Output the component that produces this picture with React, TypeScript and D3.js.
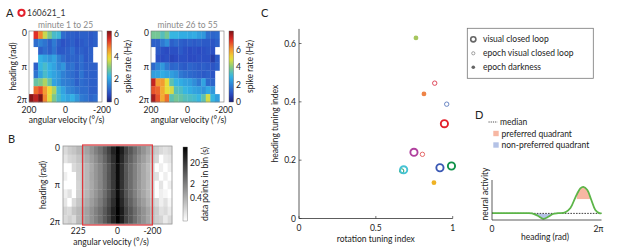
import React from 'react';
import * as d3 from 'd3';

const FONT = 'Lato, "Open Sans", sans-serif';
const TWO_PI = 2 * Math.PI;

// ---------- Panel A data ----------
const avBinsA = [187.5, 162.5, 137.5, 112.5, 87.5, 62.5, 37.5, 12.5, -12.5, -37.5, -62.5, -87.5, -112.5, -137.5, -162.5, -187.5];
const avTicksA = [200, 0, -200];
const headingTickValues = [0, Math.PI, TWO_PI];
const headingTickLabels = ['0', 'π', '2π'];
const N = null;
const spikeEarly: (number | null)[][] = [
  [N, 5.5, 4.8, 3.6, 3.0, 2.5, 2.4, 1.2, 1.0, 1.0, 0.9, 1.0, 1.0, 0.9, 1.0, N],
  [N, 1.2, 1.5, 1.3, 1.0, 1.4, 1.0, 0.8, 0.9, 1.0, 0.8, 0.9, 1.0, 0.9, 1.0, N],
  [N, N, 1.0, 1.2, 1.0, 1.3, 0.9, 0.9, 1.0, 1.2, 0.9, 1.0, 0.9, 1.0, N, N],
  [N, N, 2.2, 2.0, 1.8, 2.0, 1.5, 1.2, 1.0, 1.1, 1.0, 1.2, 0.9, 1.0, N, N],
  [N, 1.0, 2.3, 2.5, 2.2, 2.0, 1.6, 1.8, 1.2, 1.3, 1.0, 1.2, 1.0, 1.0, 1.0, N],
  [N, 1.3, 2.0, 2.5, 2.2, 2.0, 1.8, 1.5, 1.3, 1.2, 1.0, 1.3, 1.0, 1.0, 1.0, N],
  [N, 2.8, 3.0, 3.4, 2.8, 2.0, 1.8, 1.5, 1.4, 1.3, 1.0, 1.2, 1.1, 1.0, 1.0, N],
  [N, 5.0, 5.3, 4.6, 4.0, 3.4, 2.4, 2.0, 1.6, 1.5, 1.3, 1.2, 1.2, 1.0, 1.0, N],
  [6.2, 5.8, 6.3, 4.8, 3.8, 3.0, 2.5, 2.2, 2.0, 2.2, 1.8, 1.4, 1.3, 1.1, 1.2, N],
];
const spikeLate: (number | null)[][] = [
  [3.8, 3.8, 3.4, 3.8, 3.0, 3.0, 2.8, 2.8, 2.7, 2.8, 2.5, 2.4, 1.6, 1.4, 1.5, N],
  [1.3, 1.3, 1.8, 2.2, 1.3, 1.5, 1.3, 1.2, 1.3, 1.2, 1.3, 1.2, 1.2, 1.1, 1.3, N],
  [N, 1.2, 1.0, 0.9, 1.0, 1.0, 1.2, 1.0, 0.9, 1.0, 0.9, 1.0, 1.1, 1.0, N, N],
  [N, 1.0, 0.9, 1.0, 0.8, 0.9, 1.0, 1.0, 0.9, 0.9, 1.0, 1.0, 1.0, 0.6, 1.2, N],
  [1.5, 2.0, 2.4, 1.8, 1.4, 1.5, 1.3, 1.2, 1.4, 1.3, 1.2, 1.3, 1.2, 1.1, 1.3, N],
  [2.5, 2.6, 2.8, 2.6, 2.5, 2.3, 1.8, 1.6, 1.5, 1.4, 1.3, 1.2, 1.3, 1.1, N, N],
  [7.5, 6.0, 6.0, 5.0, 3.5, 3.0, 2.8, 2.6, 2.5, 2.2, 1.8, 2.6, 1.5, 1.4, N, N],
  [6.8, 6.6, 5.8, 5.0, 4.8, 3.4, 3.3, 3.0, 2.8, 2.6, 2.5, 2.3, 2.7, 2.4, N, N],
  [7.8, 6.8, 5.8, 6.5, 3.5, 3.8, 3.6, 3.4, 3.3, 3.2, 3.0, 3.5, 4.8, 3.0, 2.5, N],
];
const spikeTicks = [0, 2, 4, 6];
const spikeMaxEarly = 6.3;
const spikeMaxLate = 8.2;

// ---------- Panel B data ----------
const avBinsB = [300, 275, 250, 225, 200, 175, 150, 125, 100, 75, 50, 25, 0, -25, -50, -75, -100, -125, -150, -175, -200, -225, -250, -275, -300];
const avTicksB = [225, 0, -200];
const dwellTicks = [0.4, 2, 20];
const dwell: number[][] = [
  [0.1, 0.16, 0.2, 0.3, 0.4, 0.6, 1.0, 1.8, 3, 6.5, 14, 40, 110, 45, 14, 7, 3.5, 1.8, 1.0, 0.55, 0.3, 0.16, 0.1, 0.08, 0.1],
  [0.07, 0.11, 0.13, 0.2, 0.28, 0.43, 0.7, 1.2, 2.1, 4.4, 10, 27, 100, 33, 10, 5, 2.4, 1.2, 0.7, 0.38, 0.22, 0.11, 0.03, 0.06, 0.07],
  [0.03, 0.03, 0.1, 0.15, 0.2, 0.3, 0.5, 0.9, 1.5, 3.2, 7, 20, 80, 24, 7, 3.6, 1.8, 0.9, 0.5, 0.28, 0.16, 0.03, 0.05, 0.03, 0.05],
  [0.05, 0.03, 0.03, 0.14, 0.2, 0.3, 0.55, 0.9, 1.5, 3.2, 7.5, 20, 80, 24, 7.5, 3.6, 1.8, 0.9, 0.5, 0.3, 0.14, 0.08, 0.03, 0.05, 0.03],
  [0.03, 0.03, 0.03, 0.12, 0.2, 0.3, 0.5, 0.85, 1.5, 3.0, 7, 19, 78, 23, 7, 3.5, 1.7, 0.85, 0.5, 0.28, 0.15, 0.03, 0.07, 0.03, 0.05],
  [0.05, 0.08, 0.03, 0.14, 0.2, 0.32, 0.55, 0.9, 1.6, 3.3, 7.5, 20, 80, 25, 7.5, 3.7, 1.8, 0.9, 0.52, 0.3, 0.16, 0.03, 0.05, 0.04, 0.03],
  [0.07, 0.03, 0.1, 0.2, 0.28, 0.43, 0.72, 1.2, 2.1, 4.4, 10, 27, 100, 33, 10, 5, 2.4, 1.2, 0.72, 0.38, 0.22, 0.1, 0.05, 0.08, 0.04],
  [0.12, 0.1, 0.2, 0.3, 0.42, 0.62, 1.05, 1.8, 3, 6.5, 14, 40, 115, 48, 14, 7.2, 3.5, 1.8, 1.05, 0.56, 0.32, 0.16, 0.08, 0.1, 0.06],
  [0.1, 0.14, 0.1, 0.28, 0.4, 0.6, 1.0, 1.7, 2.9, 6.2, 13, 38, 110, 45, 13, 7, 3.4, 1.7, 1.0, 0.55, 0.3, 0.15, 0.12, 0.06, 0.1],
];

// ---------- Panel C data ----------
const closedLoopX = [0.946, 0.748, 0.681, 0.917, 0.992];
const closedLoopY = [0.325, 0.227, 0.167, 0.174, 0.180];
const closedLoopColor = ['#e3202b', '#b0409e', '#45c3d4', '#3a58b4', '#10924a'];
const epochVisX = [0.883, 0.961, 0.803, 0.668];
const epochVisY = [0.464, 0.392, 0.220, 0.163];
const epochVisColor = ['#e04a5c', '#6a86c4', '#e66a6a', '#1ea06a'];
const epochDarkX = [0.761, 0.813, 0.878];
const epochDarkY = [0.619, 0.427, 0.123];
const epochDarkColor = ['#a6c65e', '#ee8346', '#efb224'];
const cTicksX = [0, 0.5, 1];
const cTicksY = [0, 0.2, 0.4, 0.6];
const legendC = ['visual closed loop', 'epoch visual closed loop', 'epoch darkness'];

// ---------- Panel D data ----------
const headingD = [0, 1.04, 1.9, 2.3, 2.65, 2.94, 3.23, 3.5, 3.8, 4.2, 4.5, 4.78, 5.07, 5.24, 5.47, 5.7, 5.93, 6.16, 6.283];
const activityD = [0.17, 0.17, 0.17, 0.165, 0.1, 0.03, 0.08, 0.15, 0.17, 0.19, 0.3, 0.56, 0.79, 0.83, 0.75, 0.5, 0.25, 0.17, 0.17];
const medianD = 0.165;
const prefRange = [4.86, 5.62];
const prefLevel = 0.52;
const nonPrefRange = [2.48, 3.44];
const legendD = ['median', 'preferred quadrant', 'non-preferred quadrant'];

// ---------- colour maps ----------
const jet = d3
  .scaleLinear<string>()
  .domain([0, 0.11, 0.36, 0.5, 0.62, 0.75, 0.88, 1])
  .range(['#1c2378', '#2b4bc2', '#33b5e6', '#8ccc78', '#f0e034', '#f49030', '#e02a26', '#7e1416'])
  .interpolate(d3.interpolateRgb)
  .clamp(true);

const dwellLog = d3.scaleLog().domain([0.03, 120]).range([0, 1]).clamp(true);
const grayOf = (v: number) => d3.interpolateRgb('#ffffff', '#000000')(dwellLog(v));

const txt = (extra: any = {}) => ({ fontFamily: FONT, fontSize: 8.5, fill: '#222', ...extra });

function HeatA({ x0, data, max, title, showYLabel, id }: any) {
  const y0 = 31, y1 = 102, w = 73;
  const xs = d3.scaleLinear().domain([200, -200]).range([x0, x0 + w]);
  const ys = d3.scaleLinear().domain([0, TWO_PI]).range([y0, y1]);
  const rows = data.length;
  const cb = d3.scaleLinear().domain([0, max]).range([y1, y0]);
  const cbx = x0 + 78;
  const stops = d3.range(0, 1.0001, 0.05);
  return (
    <g>
      <defs>
        <linearGradient id={id} x1="0" y1="1" x2="0" y2="0">
          {stops.map((s) => (
            <stop key={s} offset={s} stopColor={jet(s)} />
          ))}
        </linearGradient>
      </defs>
      <text x={x0 + w / 2} y={25} textAnchor="middle" dominantBaseline="central" style={txt({ fill: '#8a8a8a' })}>
        {title}
      </text>
      {data.map((row: (number | null)[], r: number) =>
        row.map((v, c) =>
          v == null ? null : (
            <rect
              key={`${r}-${c}`}
              x={xs(avBinsA[c] + 12.5)}
              y={ys((r * TWO_PI) / rows)}
              width={xs(avBinsA[c] - 12.5) - xs(avBinsA[c] + 12.5) + 0.3}
              height={ys(((r + 1) * TWO_PI) / rows) - ys((r * TWO_PI) / rows) + 0.3}
              fill={jet(v / max)}
            />
          )
        )
      )}
      <rect x={x0} y={y0} width={w} height={y1 - y0} fill="none" stroke="#777" strokeWidth={0.6} />
      {headingTickValues.map((v, i) => (
        <text key={i} x={x0 - 2} y={ys(v) + (i === 0 ? 2 : i === 2 ? -2 : 0)} textAnchor="end" dominantBaseline="central" style={txt()}>
          {headingTickLabels[i]}
        </text>
      ))}
      {avTicksA.map((v) => (
        <text key={v} x={xs(v)} y={110} textAnchor="middle" dominantBaseline="central" style={txt()}>
          {v}
        </text>
      ))}
      <text x={x0 + w / 2 + 1} y={119.5} textAnchor="middle" dominantBaseline="central" style={txt()}>
        angular velocity (°/s)
      </text>
      {showYLabel && (
        <text transform={`translate(12.5,${(y0 + y1) / 2}) rotate(-90)`} textAnchor="middle" dominantBaseline="central" style={txt()}>
          heading (rad)
        </text>
      )}
      <rect x={cbx} y={y0} width={4.5} height={y1 - y0} fill={`url(#${id})`} stroke="#555" strokeWidth={0.4} />
      {spikeTicks.map((v) => (
        <text key={v} x={cbx + 7} y={cb(v)} textAnchor="start" dominantBaseline="central" style={txt()}>
          {v}
        </text>
      ))}
      <text transform={`translate(${cbx + 21},${(y0 + y1) / 2}) rotate(-90)`} textAnchor="middle" dominantBaseline="central" style={txt()}>
        spike rate (Hz)
      </text>
    </g>
  );
}

function PanelB() {
  const x0 = 63, x1 = 172, y0 = 146, y1 = 224;
  const xs = d3.scaleLinear().domain([312.5, -312.5]).range([x0, x1]);
  const ys = d3.scaleLinear().domain([0, TWO_PI]).range([y0, y1]);
  const rows = dwell.length;
  const cbTop = 147, cbBot = 221, cbx = 183;
  const cb = d3.scaleLog().domain([0.03, 120]).range([cbBot, cbTop]);
  const stops = d3.range(0, 1.0001, 0.05);
  return (
    <g>
      <defs>
        <linearGradient id="grayBar" x1="0" y1="1" x2="0" y2="0">
          {stops.map((s) => (
            <stop key={s} offset={s} stopColor={d3.interpolateRgb('#ffffff', '#000000')(s)} />
          ))}
        </linearGradient>
      </defs>
      <text x={8} y={143} style={txt({ fontSize: 11 })}>B</text>
      {dwell.map((row, r) =>
        row.map((v, c) => (
          <rect
            key={`${r}-${c}`}
            x={xs(avBinsB[c] + 12.5)}
            y={ys((r * TWO_PI) / rows)}
            width={xs(avBinsB[c] - 12.5) - xs(avBinsB[c] + 12.5) + 0.3}
            height={ys(((r + 1) * TWO_PI) / rows) - ys((r * TWO_PI) / rows) + 0.3}
            fill={grayOf(v)}
          />
        ))
      )}
      <rect x={x0} y={y0} width={x1 - x0} height={y1 - y0} fill="none" stroke="#999" strokeWidth={0.8} />
      <rect x={xs(200)} y={y0 - 1} width={xs(-200) - xs(200)} height={y1 - y0 + 2} fill="none" stroke="#e0353a" strokeWidth={1.2} />
      {headingTickValues.map((v, i) => (
        <text key={i} x={x0 - 3} y={ys(v) + (i === 0 ? 2 : i === 2 ? -2 : 0)} textAnchor="end" dominantBaseline="central" style={txt()}>
          {headingTickLabels[i]}
        </text>
      ))}
      <text transform={`translate(43,${(y0 + y1) / 2}) rotate(-90)`} textAnchor="middle" dominantBaseline="central" style={txt()}>
        heading (rad)
      </text>
      {avTicksB.map((v) => (
        <text key={v} x={xs(v)} y={230.5} textAnchor="middle" dominantBaseline="central" style={txt()}>
          {v}
        </text>
      ))}
      <text x={111} y={241.5} textAnchor="middle" dominantBaseline="central" style={txt()}>
        angular velocity (°/s)
      </text>
      <rect x={cbx} y={cbTop} width={4.5} height={cbBot - cbTop} fill="url(#grayBar)" stroke="#666" strokeWidth={0.4} />
      {dwellTicks.map((v) => (
        <text key={v} x={cbx + 7} y={cb(v)} textAnchor="start" dominantBaseline="central" style={txt()}>
          {v}
        </text>
      ))}
      <text transform={`translate(205,${(cbTop + cbBot) / 2}) rotate(-90)`} textAnchor="middle" dominantBaseline="central" style={txt()}>
        data points in bin (s)
      </text>
    </g>
  );
}

function PanelC() {
  const xs = d3.scaleLinear().domain([0, 1]).range([299, 452.7]);
  const ys = d3.scaleLinear().domain([0, 0.6]).range([218.5, 43.5]);
  const axis = '#333';
  return (
    <g>
      <text x={261} y={17} style={txt({ fontSize: 11 })}>C</text>
      <line x1={xs(0)} x2={xs(0)} y1={ys(0.65)} y2={ys(0)} stroke={axis} strokeWidth={0.8} />
      <line x1={xs(0)} x2={xs(1)} y1={ys(0)} y2={ys(0)} stroke={axis} strokeWidth={0.8} />
      {cTicksY.map((v) => (
        <g key={v}>
          <line x1={xs(0)} x2={xs(0) + 2.5} y1={ys(v)} y2={ys(v)} stroke={axis} strokeWidth={0.7} />
          <text x={xs(0) - 3} y={ys(v)} textAnchor="end" dominantBaseline="central" style={txt()}>
            {v}
          </text>
        </g>
      ))}
      {cTicksX.map((v) => (
        <g key={v}>
          <line x1={xs(v)} x2={xs(v)} y1={ys(0)} y2={ys(0) - 2.5} stroke={axis} strokeWidth={0.7} />
          <text x={xs(v)} y={228} textAnchor="middle" dominantBaseline="central" style={txt()}>
            {v}
          </text>
        </g>
      ))}
      <text x={(xs(0) + xs(1)) / 2} y={238.5} textAnchor="middle" dominantBaseline="central" style={txt()}>
        rotation tuning index
      </text>
      <text transform={`translate(275,${(ys(0) + ys(0.65)) / 2}) rotate(-90)`} textAnchor="middle" dominantBaseline="central" style={txt()}>
        heading tuning index
      </text>
      {epochDarkX.map((x, i) => (
        <circle key={`d${i}`} cx={xs(x)} cy={ys(epochDarkY[i])} r={2.4} fill={epochDarkColor[i]} />
      ))}
      {epochVisX.map((x, i) => (
        <circle key={`v${i}`} cx={xs(x)} cy={ys(epochVisY[i])} r={2.2} fill="none" stroke={epochVisColor[i]} strokeWidth={1} />
      ))}
      {closedLoopX.map((x, i) => (
        <circle key={`c${i}`} cx={xs(x)} cy={ys(closedLoopY[i])} r={3.6} fill="none" stroke={closedLoopColor[i]} strokeWidth={1.9} />
      ))}
      <rect x={467.3} y={28.3} width={126} height={50} fill="#fff" stroke="#777" strokeWidth={0.8} />
      {legendC.map((t, i) => {
        const y = 39.3 + i * 14;
        return (
          <g key={t}>
            {i === 0 && <circle cx={473.3} cy={y} r={2.6} fill="none" stroke="#666" strokeWidth={1.6} />}
            {i === 1 && <circle cx={473.3} cy={y} r={1.6} fill="none" stroke="#888" strokeWidth={0.8} />}
            {i === 2 && <circle cx={473.3} cy={y} r={1.8} fill="#666" />}
            <text x={483} y={y} dominantBaseline="central" style={txt()}>
              {t}
            </text>
          </g>
        );
      })}
    </g>
  );
}

function PanelD() {
  const xs = d3.scaleLinear().domain([0, TWO_PI]).range([492, 601.5]);
  const ys = d3.scaleLinear().domain([0, 1]).range([220, 180]);
  const pts = headingD.map((h, i) => [h, activityD[i]] as [number, number]);
  const curve = d3.curveCatmullRom.alpha(0.5);
  const line = d3
    .line<[number, number]>()
    .x((d) => xs(d[0]))
    .y((d) => ys(d[1]))
    .curve(curve);
  const prefArea = d3
    .area<[number, number]>()
    .x((d) => xs(d[0]))
    .y0(ys(prefLevel))
    .y1((d) => ys(d[1]))
    .curve(curve);
  const nonPrefArea = d3
    .area<[number, number]>()
    .x((d) => xs(d[0]))
    .y0(ys(medianD))
    .y1((d) => ys(d[1]))
    .curve(curve);
  return (
    <g>
      <defs>
        <clipPath id="prefClip">
          <rect x={xs(prefRange[0])} y={ys(1)} width={xs(prefRange[1]) - xs(prefRange[0])} height={ys(prefLevel) - ys(1)} />
        </clipPath>
        <clipPath id="nonPrefClip">
          <rect x={xs(nonPrefRange[0])} y={ys(medianD)} width={xs(nonPrefRange[1]) - xs(nonPrefRange[0])} height={ys(0) - ys(medianD)} />
        </clipPath>
      </defs>
      <text x={475} y={118.5} style={txt({ fontSize: 11 })}>D</text>
      {legendD.map((t, i) => {
        const y = 122 + i * 11.5;
        return (
          <g key={t}>
            {i === 0 && <line x1={488.5} x2={497.5} y1={y} y2={y} stroke="#222" strokeWidth={0.8} strokeDasharray="1.2,1" />}
            {i === 1 && <rect x={493.3} y={y - 2.7} width={5.4} height={5.4} fill="#f7b7a3" />}
            {i === 2 && <rect x={493.3} y={y - 2.7} width={5.4} height={5.4} fill="#b4c2e6" />}
            <text x={i === 0 ? 500 : 501.5} y={y} dominantBaseline="central" style={txt()}>
              {t}
            </text>
          </g>
        );
      })}
      <path d={prefArea(pts) || ''} fill="#f7b7a3" clipPath="url(#prefClip)" />
      <path d={nonPrefArea(pts) || ''} fill="#b4c2e6" clipPath="url(#nonPrefClip)" />
      <line x1={xs(0)} x2={xs(TWO_PI)} y1={ys(medianD)} y2={ys(medianD)} stroke="#111" strokeWidth={0.8} strokeDasharray="1.6,1.2" />
      <path d={line(pts) || ''} fill="none" stroke="#5cb548" strokeWidth={1.8} />
      <line x1={xs(0)} x2={xs(0)} y1={ys(1)} y2={ys(0)} stroke="#333" strokeWidth={0.8} />
      <line x1={xs(0)} x2={xs(TWO_PI)} y1={ys(0)} y2={ys(0)} stroke="#333" strokeWidth={0.8} />
      <text x={xs(0)} y={228.5} textAnchor="middle" dominantBaseline="central" style={txt()}>0</text>
      <text x={xs(TWO_PI) - 3} y={228.5} textAnchor="middle" dominantBaseline="central" style={txt()}>2π</text>
      <text x={545} y={236.5} textAnchor="middle" dominantBaseline="central" style={txt()}>heading (rad)</text>
      <text transform={`translate(485,194) rotate(-90)`} textAnchor="middle" dominantBaseline="central" style={txt()}>
        neural activity
      </text>
    </g>
  );
}

export default function App() {
  return (
    <svg width={617} height={247} style={{ position: 'absolute', left: 0, top: 0, background: '#fff' }}>
      <rect width={617} height={247} fill="#fff" />
      <text x={6} y={17} style={txt({ fontSize: 11 })}>A</text>
      <circle cx={21.5} cy={12.8} r={3.1} fill="none" stroke="#e3202b" strokeWidth={2} />
      <text x={27} y={16} style={txt({ fill: '#333' })}>160621_1</text>
      <HeatA x0={29} data={spikeEarly} max={spikeMaxEarly} title="minute 1 to 25" showYLabel id="jetA" />
      <HeatA x0={151} data={spikeLate} max={spikeMaxLate} title="minute 26 to 55" showYLabel={false} id="jetB" />
      <PanelB />
      <PanelC />
      <PanelD />
    </svg>
  );
}
